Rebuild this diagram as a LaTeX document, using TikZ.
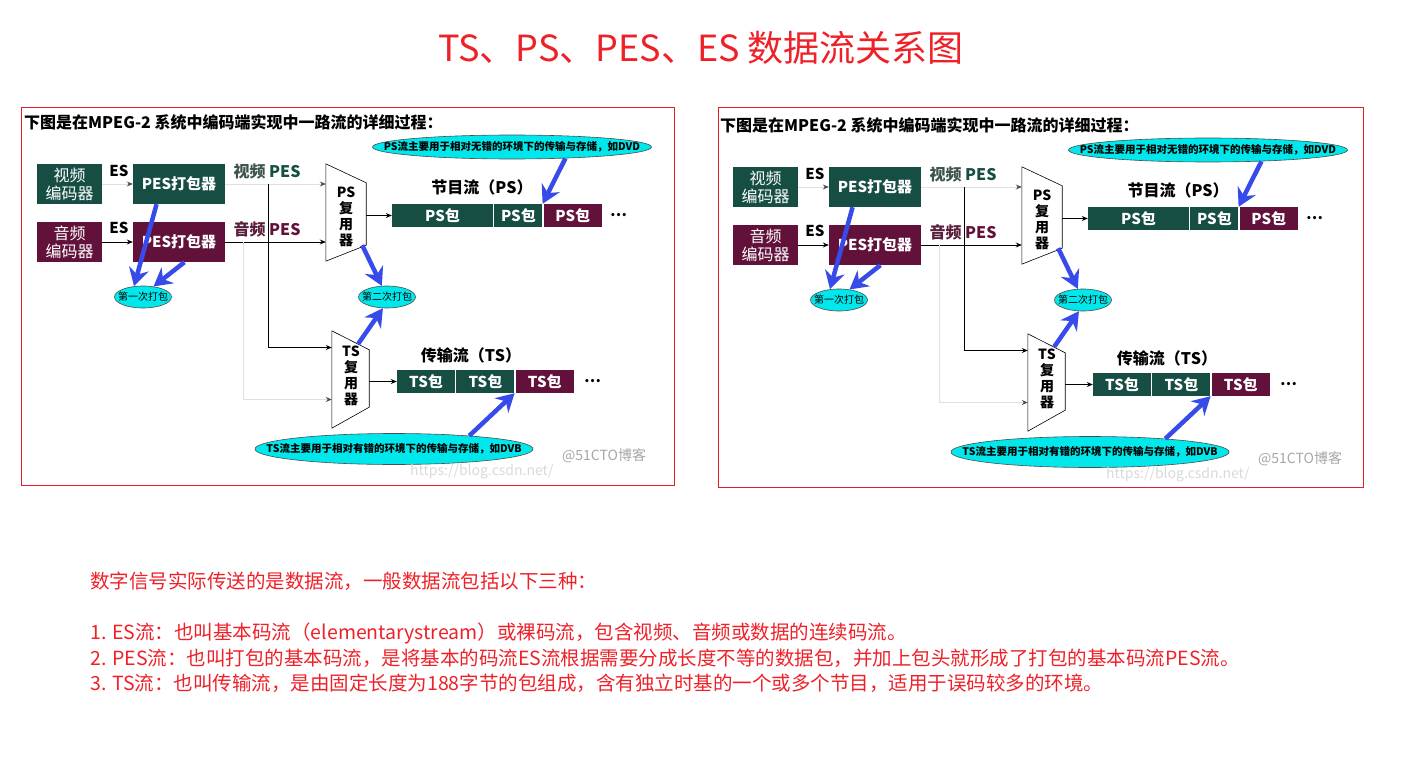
\documentclass[tikz,border=0pt]{standalone}
\usepackage{fontspec}
\setmainfont{Noto Sans CJK SC}
\usetikzlibrary{shapes.geometric, arrows.meta, positioning}

\definecolor{pesteal}{RGB}{22,78,68}
\definecolor{pesmaroon}{RGB}{98,18,58}
\definecolor{vidgray}{RGB}{60,84,74}
\definecolor{audwine}{RGB}{88,30,60}
\definecolor{notecyan}{RGB}{0,232,235}
\definecolor{arrowblue}{RGB}{55,75,235}
\definecolor{titlered}{RGB}{238,32,40}
\definecolor{framered}{RGB}{228,30,36}

\begin{document}
\begin{tikzpicture}[
    x=1pt, y=-1pt,
    tealbox/.style={fill=pesteal, text=white, inner sep=0pt, align=center, font=\bfseries\fontsize{15}{17}\selectfont},
    winebox/.style={tealbox, fill=pesmaroon},
    encbox/.style={minimum width=65pt, minimum height=40pt, font=\fontsize{16}{18}\selectfont},
    packer/.style={minimum width=92pt, minimum height=40pt},
    packet/.style={minimum height=23pt},
    eslabel/.style={font=\bfseries\fontsize{15}{17}\selectfont, inner sep=0pt},
    pestag/.style={font=\bfseries\fontsize{16}{18}\selectfont, inner sep=0pt},
    streamlabel/.style={font=\bfseries\fontsize{16}{18}\selectfont, inner sep=0pt},
    muxtext/.style={inner sep=0pt, align=center, font=\bfseries\fontsize{14}{16}\selectfont},
    muxline/.style={draw=black, line width=0.6pt, fill=white},
    note/.style={ellipse, draw=black!70, line width=0.6pt, fill=notecyan, inner sep=0pt, font=\bfseries\fontsize{10.5}{12}\selectfont},
    feed/.style={draw=black, line width=0.9pt, -{Stealth[length=6pt, width=5pt]}},
    faintfeed/.style={draw=black!12, line width=0.9pt, -{Stealth[length=6pt, width=5pt, color=black!70]}},
    bluecall/.style={draw=arrowblue, line width=4.5pt, -{Stealth[length=18pt, width=20pt, inset=6pt]}},
    dots/.style={font=\bfseries\fontsize{15}{17}\selectfont, inner sep=0pt},
    wmark/.style={font=\fontsize{14}{16}\selectfont, text=black!35, inner sep=0pt},
    redframe/.style={draw=framered, line width=1pt},
    bodytext/.style={anchor=west, inner sep=0pt, text=titlered, font=\fontsize{19.5}{22}\selectfont},
    diagram/.pic={
        \node[anchor=west, inner sep=0pt, font=\bfseries\fontsize{16}{18}\selectfont] (head) at (24,122) {下图是在MPEG-2 系统中编码端实现中一路流的详细过程：};
        % encoders and PES packers
        \node[tealbox, encbox] (venc) at (69.5,184) {视频\\编码器};
        \node[winebox, encbox] (aenc) at (69.5,242) {音频\\编码器};
        \node[tealbox, packer] (vpes) at (179,184) {PES打包器};
        \node[winebox, packer] (apes) at (179,242) {PES打包器};
        \node[eslabel] (ves) at (119,171) {ES};
        \node[eslabel] (aes) at (119,228) {ES};
        \node[pestag] (vtag) at (267,171) {{\color{vidgray}视频}\ {\color{pesteal}PES}};
        \node[pestag] (atag) at (267,229) {{\color{audwine}音频}\ {\color{pesmaroon}PES}};
        % multiplexers
        \node[muxtext, minimum width=40pt, minimum height=97pt] (psmux) at (346,212.5) {};
        \draw[muxline] (psmux.north west) -- ([yshift=-19pt]psmux.north east) -- ([yshift=16pt]psmux.south east) -- (psmux.south west) -- cycle;
        \node[muxtext] (pstext) at (346,217) {PS\\复\\用\\器};
        \node[muxtext, minimum width=37pt, minimum height=97pt] (tsmux) at (350.5,379.5) {};
        \draw[muxline] (tsmux.north west) -- ([yshift=-19pt]tsmux.north east) -- ([yshift=21pt]tsmux.south east) -- (tsmux.south west) -- cycle;
        \node[muxtext] (tstext) at (351,376) {TS\\复\\用\\器};
        % streams
        \node[streamlabel] (pslabel) at (482,187) {节目流（PS）};
        \node[tealbox, packet, minimum width=101pt] (ps1) at (442.5,215.5) {PS包};
        \node[tealbox, packet, minimum width=48pt, right=1pt of ps1] (ps2) {PS包};
        \node[winebox, packet, minimum width=58pt, right=1pt of ps2] (ps3) {PS包};
        \node[dots, right=8pt of ps3] (psmore) {…};
        \node[streamlabel] (tslabel) at (471,355) {传输流（TS）};
        \node[tealbox, packet, minimum width=58pt] (ts1) at (426,381.5) {TS包};
        \node[tealbox, packet, minimum width=58pt, right=1pt of ts1] (ts2) {TS包};
        \node[winebox, packet, minimum width=58pt, right=1pt of ts2] (ts3) {TS包};
        \node[dots, right=10pt of ts3] (tsmore) {…};
        % flow lines
        \coordinate (vtap) at (268,184);
        \coordinate (atap) at (243,242);
        \draw[faintfeed] (venc.east) -- (vpes.west);
        \draw[feed] (aenc.east) -- (apes.west);
        \draw[faintfeed] (vpes.east) -- (vpes.east -| psmux.west);
        \draw[feed] (apes.east) -- (apes.east -| psmux.west);
        \draw[faintfeed] (atap) |- ([yshift=-20pt]tsmux.west);
        \draw[feed] (vtap) |- ([yshift=32pt]tsmux.west);
        \draw[feed] (psmux.east |- ps1.west) -- (ps1.west);
        \draw[feed] (tsmux.east |- ts1.west) -- (ts1.west);
        % notes
        \node[note, minimum width=279pt, minimum height=24pt] (psnote) at (512,147) {\makebox[0pt]{PS流主要用于相对无错的环境下的传输与存储，如DVD}};
        \node[note, minimum width=278pt, minimum height=31pt] (tsnote) at (394,449) {\makebox[0pt]{TS流主要用于相对有错的环境下的传输与存储，如DVB}};
        \node[note, minimum width=57pt, minimum height=22pt, font=\fontsize{10}{12}\selectfont] (first) at (143,297) {\makebox[0pt]{第一次打包}};
        \node[note, minimum width=57pt, minimum height=22pt, font=\fontsize{10}{12}\selectfont] (second) at (387,297) {\makebox[0pt]{第二次打包}};
        \draw[bluecall] (vpes.222) -- (first.130);
        \draw[bluecall] (apes.285) -- (first.45);
        \draw[bluecall] ([xshift=-4pt,yshift=16pt]psmux.south east) -- (second.115);
        \draw[bluecall] ([xshift=-11pt,yshift=-13pt]tsmux.north east) -- (second.250);
        \draw[bluecall] (psnote.-12) -- (ps2.north east);
        \draw[bluecall] (tsnote.10) -- (ts2.south east);
        \node[wmark, anchor=west, text=black!15] (url) at (410,472) {https://blog.csdn.net/};
        \node[wmark, anchor=west] (cto) at (562,456) {@51CTO博客};
    }
]
\useasboundingbox (0,0) rectangle (1403,770);

\node[font=\fontsize{36}{40}\selectfont, text=titlered] (title) at (701,48) {TS、PS、PES、ES 数据流关系图};

\draw[redframe] (21,108) rectangle (674,485);
\draw[redframe] (718,108) rectangle (1363,487);
\pic (L) at (0,0) {diagram};
\pic (R) at (696,3) {diagram};

\node[bodytext] (intro) at (90,581) {数字信号实际传送的是数据流，一般数据流包括以下三种：};
\node[bodytext] (item1) at (90,633) {1. ES流：也叫基本码流（elementarystream）或裸码流，包含视频、音频或数据的连续码流。};
\node[bodytext] (item2) at (90,658) {2. PES流：也叫打包的基本码流，是将基本的码流ES流根据需要分成长度不等的数据包，并加上包头就形成了打包的基本码流PES流。};
\node[bodytext] (item3) at (90,683) {3. TS流：也叫传输流，是由固定长度为188字节的包组成，含有独立时基的一个或多个节目，适用于误码较多的环境。};

\end{tikzpicture}
\end{document}
